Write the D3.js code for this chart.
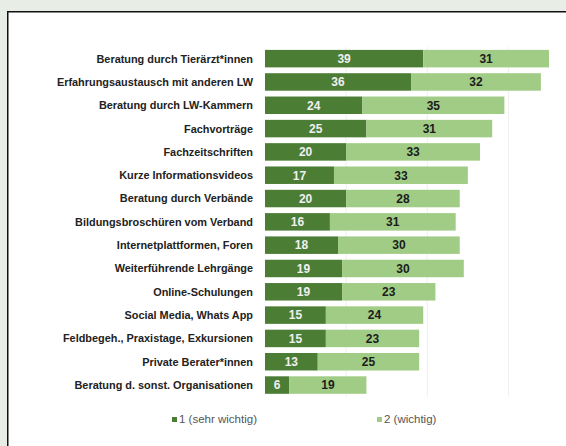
<!DOCTYPE html>
<html>
<head>
<meta charset="utf-8">
<script src="https://cdn.jsdelivr.net/npm/d3@7"></script>
<style>
  body { margin: 0; background: #e8ede6; }
  svg { display: block; }
</style>
</head>
<body>
<svg id="chart" width="566" height="446"></svg>
<script>
// Werte
const kategorien = [
  'Beratung durch Tierärzt*innen',
  'Erfahrungsaustausch mit anderen LW',
  'Beratung durch LW-Kammern',
  'Fachvorträge',
  'Fachzeitschriften',
  'Kurze Informationsvideos',
  'Beratung durch Verbände',
  'Bildungsbroschüren vom Verband',
  'Internetplattformen, Foren',
  'Weiterführende Lehrgänge',
  'Online-Schulungen',
  'Social Media, Whats App',
  'Feldbegeh., Praxistage, Exkursionen',
  'Private Berater*innen',
  'Beratung d. sonst. Organisationen'
];
const sehrWichtig = [39, 36, 24, 25, 20, 17, 20, 16, 18, 19, 19, 15, 15, 13, 6];
const wichtig     = [31, 32, 35, 31, 33, 33, 28, 31, 30, 30, 23, 24, 23, 25, 19];
const serien = ['1 (sehr wichtig)', '2 (wichtig)'];
const farben = ['#4b7d35', '#a0cc85'];
const gitter = [20, 40, 60];

const svg = d3.select('#chart');

// weißes Feld mit schwarzer Kante links/oben
svg.append('rect').attr('x', 7).attr('y', 11).attr('width', 566).attr('height', 446)
  .attr('fill', '#fff');
svg.append('path').attr('d', 'M7.75,446V11.75H566')
  .attr('fill', 'none').attr('stroke', '#111').attr('stroke-width', 1.5);

const x = d3.scaleLinear().domain([0, 70]).range([265, 549]);
const y = d3.scaleBand().domain(kategorien).range([47.1, 396.6]).paddingInner(0.25).paddingOuter(0.12);

svg.append('g').selectAll('line').data(gitter).join('line')
  .attr('x1', d => x(d)).attr('x2', d => x(d))
  .attr('y1', 47).attr('y2', 397)
  .attr('stroke', '#efefef').attr('stroke-width', 1);

const rows = kategorien.map((k, i) => ({ k, a: sehrWichtig[i], b: wichtig[i] }));

const g = svg.append('g').selectAll('g').data(rows).join('g');

g.append('rect')
  .attr('x', x(0)).attr('y', d => y(d.k))
  .attr('width', d => x(d.a) - x(0)).attr('height', y.bandwidth())
  .attr('fill', farben[0]);
g.append('rect')
  .attr('x', d => x(d.a)).attr('y', d => y(d.k))
  .attr('width', d => x(d.a + d.b) - x(d.a)).attr('height', y.bandwidth())
  .attr('fill', farben[1]);

const schrift = 'Liberation Sans, Arial, sans-serif';
g.append('text')
  .attr('x', d => (x(0) + x(d.a)) / 2).attr('y', d => y(d.k) + y.bandwidth() / 2)
  .attr('dy', '0.36em').attr('text-anchor', 'middle')
  .attr('fill', '#f0f0f0')
  .attr('font-family', schrift).attr('font-weight', 'bold').attr('font-size', '12px')
  .text(d => d.a);
g.append('text')
  .attr('x', d => (x(d.a) + x(d.a + d.b)) / 2).attr('y', d => y(d.k) + y.bandwidth() / 2)
  .attr('dy', '0.36em').attr('text-anchor', 'middle')
  .attr('fill', '#1c1c1c')
  .attr('font-family', schrift).attr('font-weight', 'bold').attr('font-size', '12px')
  .text(d => d.b);

// Kategorienbeschriftung
g.append('text')
  .attr('x', 253).attr('y', d => y(d.k) + y.bandwidth() / 2)
  .attr('dy', '0.36em').attr('text-anchor', 'end')
  .attr('fill', '#222')
  .attr('font-family', schrift)
  .attr('font-weight', 'bold').attr('font-size', '10.9px')
  .text(d => d.k);

// Legende
const legX = [172, 377];
const leg = svg.append('g').selectAll('g').data(serien).join('g')
  .attr('transform', (d, i) => `translate(${legX[i]},420)`);
leg.append('rect').attr('x', 0).attr('y', -3).attr('width', 5).attr('height', 5)
  .attr('fill', (d, i) => farben[i]);
leg.append('text').attr('x', 7).attr('y', 0).attr('dy', '0.3em')
  .attr('fill', '#555').attr('font-family', schrift)
  .attr('font-size', '11.5px').text(d => d);
</script>
</body>
</html>
